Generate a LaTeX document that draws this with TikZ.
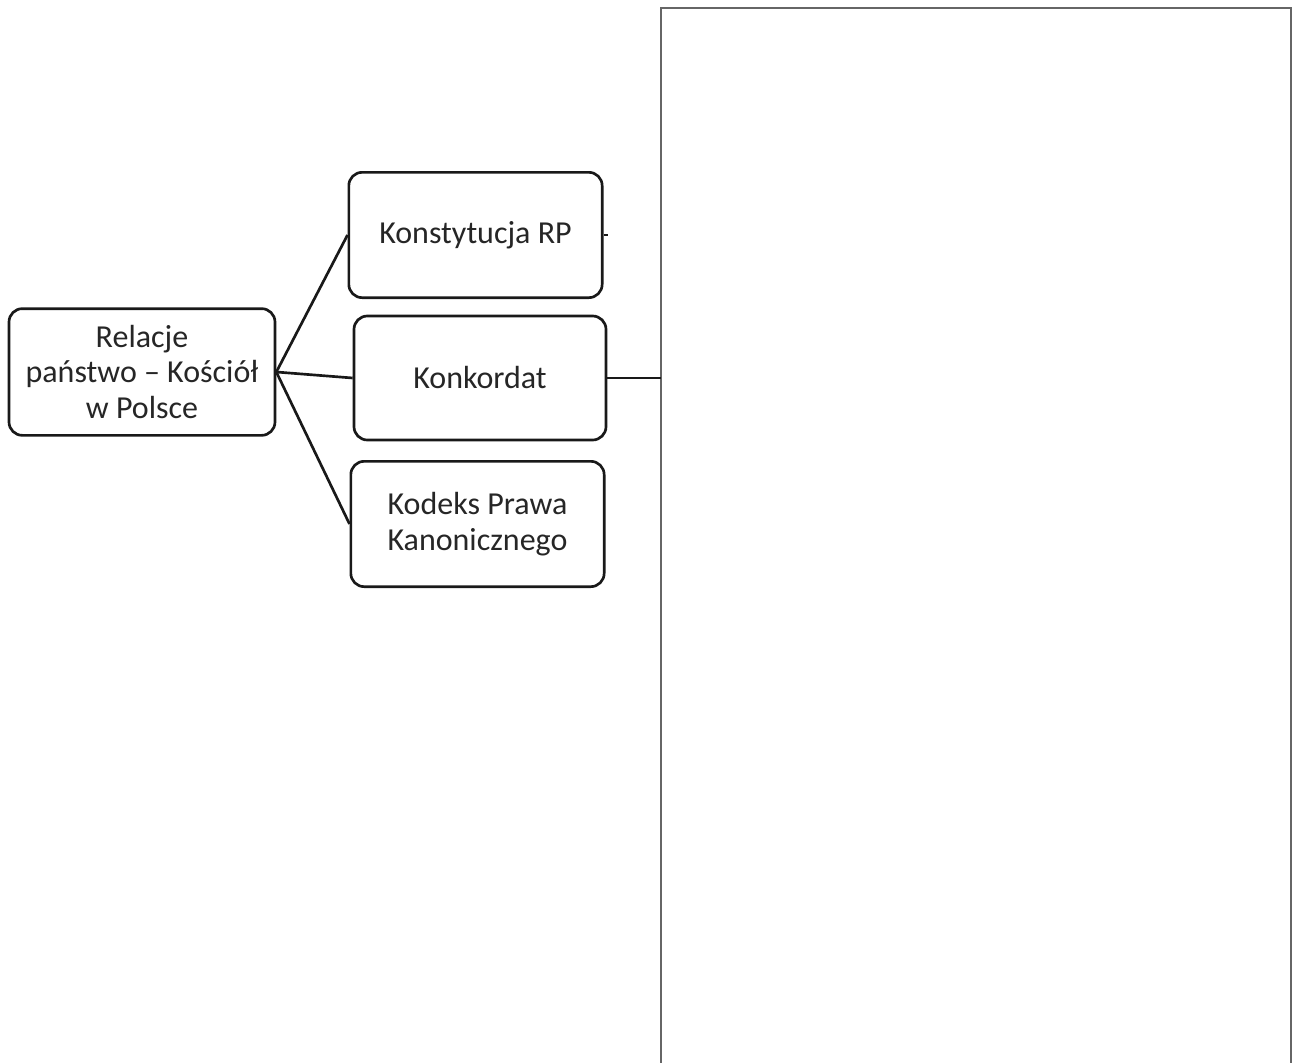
\documentclass[tikz,border=0pt]{standalone}
\usepackage{fontspec}
\setmainfont{Carlito}
\usepackage{tikz}

\begin{document}
\begin{tikzpicture}[x=0.75pt,y=-0.75pt]
				\tikzstyle{box}=[rectangle,rounded corners=10pt,draw=black!90,line width=2pt,align=center,text=black!85,font=\fontsize{24}{26.5}\selectfont,inner sep=0pt]
				\tikzstyle{link}=[line width=2pt,black!90]
				\useasboundingbox (0,0) rectangle (1293,1063);
				\node[box,minimum width=199.5pt,minimum height=95pt](r) at (142,372) {Relacje\\pa\'nstwo -- Ko\'sci\'o\l\\w Polsce};
				\node[box,minimum width=190pt,minimum height=94pt](k1) at (475.5,235) {Konstytucja RP};
				\node[box,minimum width=189pt,minimum height=93pt](k2) at (480,378) {Konkordat};
				\node[box,minimum width=190pt,minimum height=94pt](k3) at (477.5,524) {Kodeks Prawa\\Kanonicznego};
				\coordinate (tick) at (608,235);
				\coordinate (panel) at (661,378);
				\draw[black!60,line width=1.2pt] (661,1063) -- (661,8) -- (1291,8) -- (1291,1063);
				\draw[link] (r.east) to (k1.west);
				\draw[link] (r.east) to (k2.west);
				\draw[link] (r.east) to (k3.west);
				\draw[link] (k1.east) to (tick);
				\draw[link] (k2.east) to (panel);
			\end{tikzpicture}
\end{document}
